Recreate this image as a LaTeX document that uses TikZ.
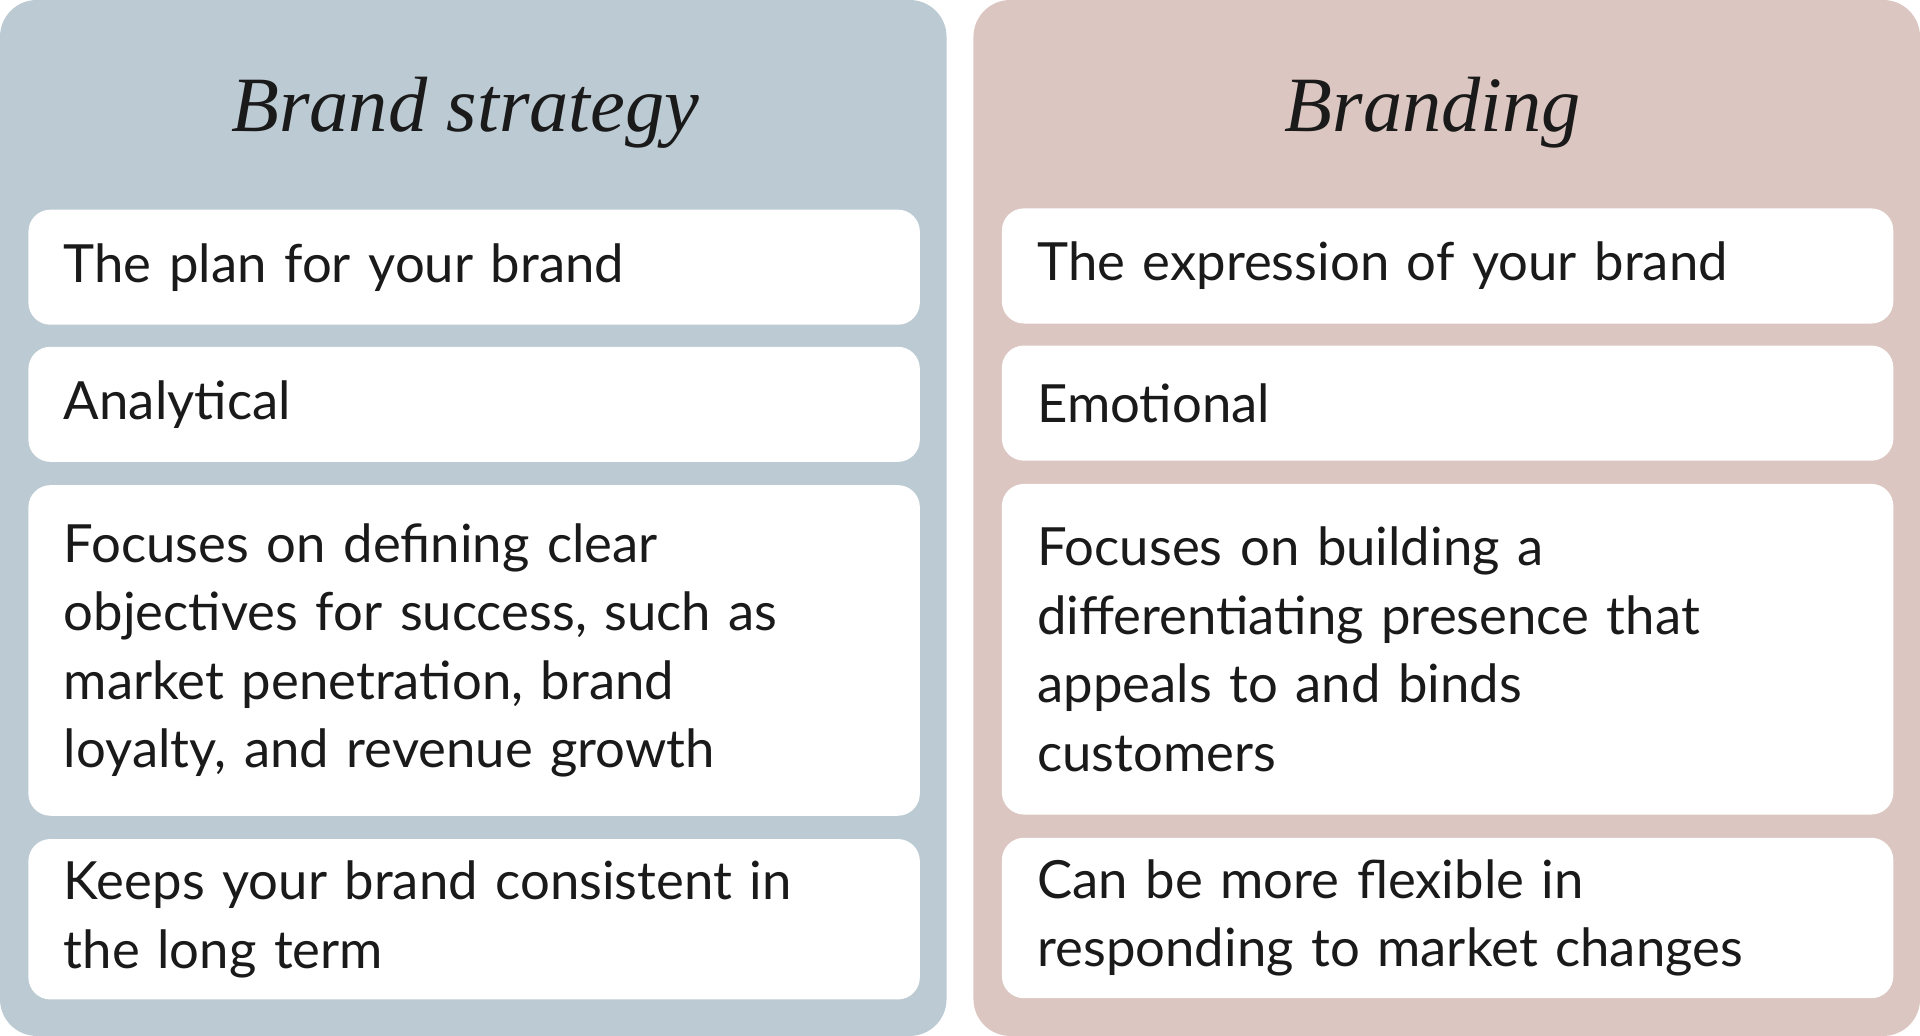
\documentclass[tikz,border=0pt]{standalone}
\usepackage{fontspec}
\setmainfont{Lato}[WordSpace=0.8]
\newfontfamily\titlefont{Liberation Serif}
\usetikzlibrary{positioning}
\definecolor{bsback}{HTML}{BCCAD3}
\definecolor{brback}{HTML}{DCC6C1}
\definecolor{ink}{HTML}{1A1A1A}
\tikzset{
    panel/.style={rounded corners=30pt, line width=0pt},
    cell/.style={fill=white, rounded corners=18pt, anchor=north west,
        minimum width=728pt, text width=670pt, align=left, inner xsep=29pt,
        font=\fontsize{43}{56}\selectfont, text=ink},
    heading/.style={font=\titlefont\itshape\fontsize{64}{70}\selectfont, text=ink}
}
\begin{document}
\begin{tikzpicture}[x=1pt, y=-1pt]
	\useasboundingbox (0,0) rectangle (1568,846);
	\fill[panel, bsback] (0,0) rectangle (773,846);
	\fill[panel, brback] (795,0) rectangle (1568,846);
	
	\node[heading] (bst) at (380,92) {Brand strategy};
	\node[heading] (brt) at (1170,92) {Branding};
	
	% left column
	\node[cell, minimum height=94pt] (bs1) at (23,171) {The plan for your brand};
	\node[cell, minimum height=94pt] (bs2) at (23,283) {Analytical};
	\node[cell, minimum height=270pt] (bs3) at (23,396) {Focuses on defining clear\\objectives for success, such as\\market penetration, brand\\loyalty, and revenue growth};
	\node[cell, minimum height=131pt] (bs4) at (23,685) {Keeps your brand consistent in\\the long term};
	
	% right column
	\node[cell, minimum height=94pt] (br1) at (818,170) {The expression of your brand};
	\node[cell, minimum height=94pt] (br2) at (818,282) {Emotional};
	\node[cell, minimum height=270pt] (br3) at (818,395) {Focuses on building a\\differentiating presence that\\appeals to and binds\\customers};
	\node[cell, minimum height=131pt] (br4) at (818,684) {Can be more flexible in\\responding to market changes};
\end{tikzpicture}
\end{document}
